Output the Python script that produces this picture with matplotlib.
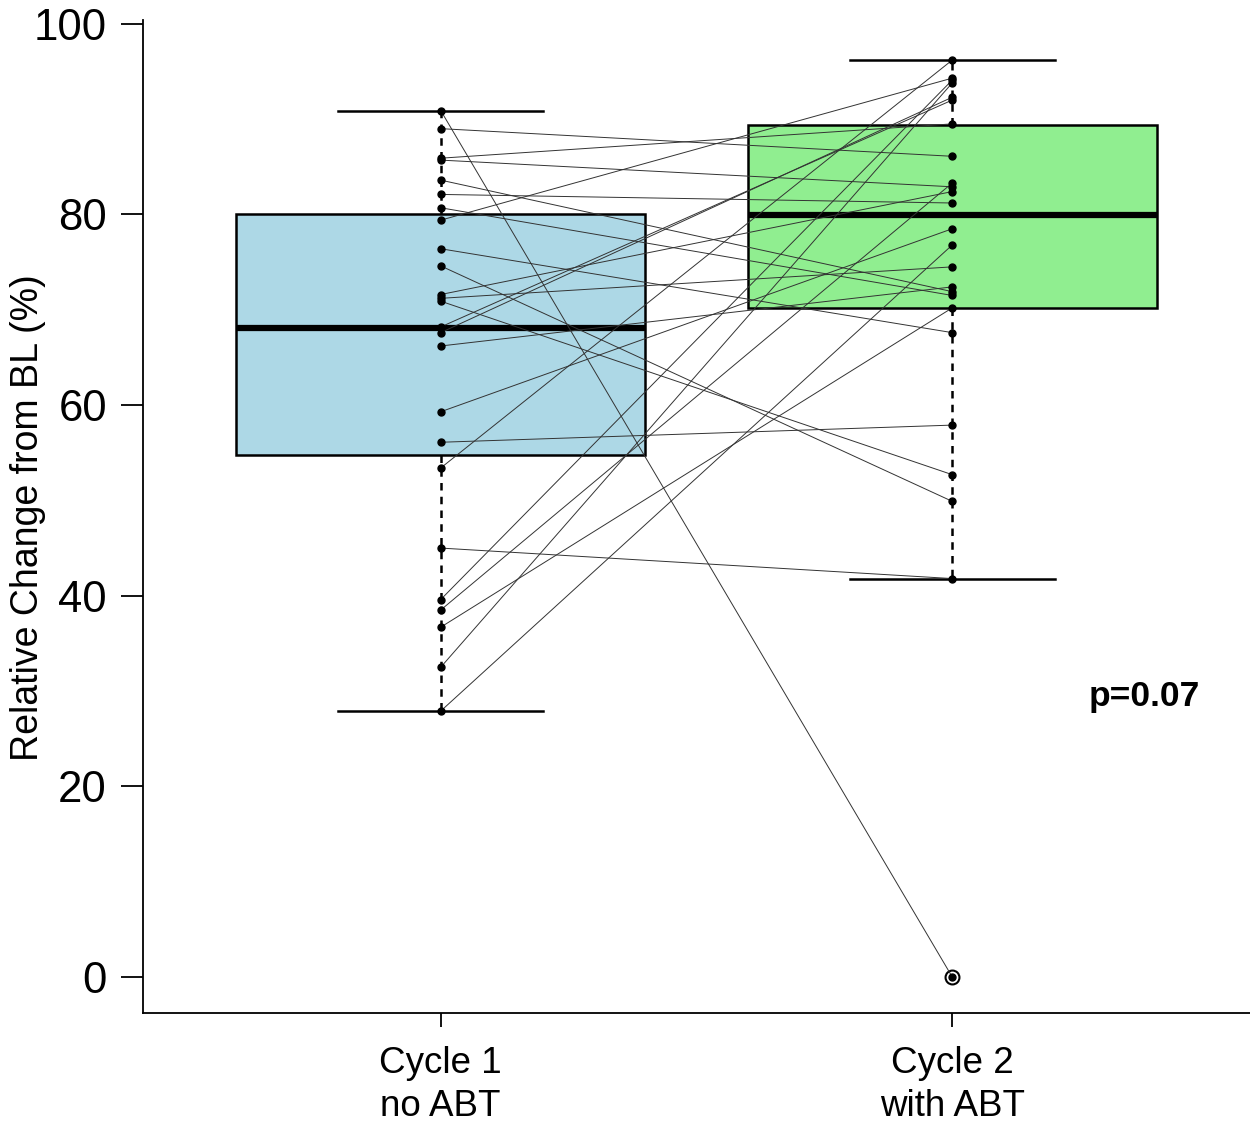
import numpy as np
import matplotlib
matplotlib.use("Agg")
from matplotlib import pyplot as plt

plt.rcParams["font.family"] = ["Liberation Sans", "DejaVu Sans"]

# paired values, same patient in the same position
cycle1 = [90.9, 89.0, 85.9, 85.7, 83.6, 82.1, 80.7, 79.4, 76.4, 74.6,
          71.6, 71.2, 70.9, 68.2, 67.6, 66.2, 59.3, 56.1, 53.4, 45.0,
          39.6, 38.5, 36.7, 32.5, 27.9]
cycle2 = [0.0, 86.1, 89.5, 82.9, 71.9, 81.2, 71.5, 94.3, 67.6, 49.9,
          82.4, 74.5, 52.7, 92.0, 92.3, 72.4, 78.5, 57.9, 96.2, 41.8,
          94.1, 83.3, 70.2, 93.8, 76.8]

# box summaries
whisker_low = [27.9, 41.8]
lower_hinge = [54.8, 70.2]
medians = [68.1, 79.9]
upper_hinge = [80.0, 89.4]
whisker_high = [90.9, 96.2]
outliers = [[], [0.0]]

box_colors = ["#ADD8E6", "#90EE90"]
tick_labels = ["Cycle 1\nno ABT", "Cycle 2\nwith ABT"]
y_ticks = [0, 20, 40, 60, 80, 100]

fig = plt.figure(figsize=(12.5, 11.29), dpi=100)
ax = fig.add_axes([0.1144, 0.1027, 0.8856, 0.8796])

stats = [
    dict(whislo=whisker_low[i], q1=lower_hinge[i], med=medians[i],
         q3=upper_hinge[i], whishi=whisker_high[i], fliers=outliers[i])
    for i in range(2)
]
bp = ax.bxp(stats, positions=[1, 2], widths=0.8, patch_artist=True,
            boxprops=dict(linewidth=1.8, edgecolor="black"),
            medianprops=dict(linewidth=4.5, color="black", solid_capstyle="butt"),
            whiskerprops=dict(linewidth=1.8, linestyle=(0, (3, 2.5)), color="black"),
            capprops=dict(linewidth=1.8, color="black"),
            capwidths=0.4,
            flierprops=dict(marker="o", markersize=10, markerfacecolor="none",
                            markeredgecolor="black", markeredgewidth=1.5))
for patch, c in zip(bp["boxes"], box_colors):
    patch.set_facecolor(c)

for a, b in zip(cycle1, cycle2):
    ax.plot([1, 2], [a, b], color="#333333", lw=0.7, zorder=3)

ax.plot(np.ones(len(cycle1)), cycle1, "o", color="black", ms=5, zorder=4)
ax.plot(np.full(len(cycle2), 2), cycle2, "o", color="black", ms=5, zorder=4)

ax.text(2.375, 29.4, "p=0.07", fontsize=25.5, fontweight="bold", ha="center", va="center")

ax.set_xlim(0.418, 2.582)
ax.set_ylim(-3.78, 100.4)
ax.set_xticks([1, 2])
ax.set_xticklabels(tick_labels, fontsize=26.5, linespacing=1.3)
ax.set_yticks(y_ticks)
ax.set_yticklabels([str(v) for v in y_ticks], fontsize=31.5)
ax.tick_params(axis="y", length=16, width=1.3, pad=10)
ax.tick_params(axis="x", length=10, width=1.3, pad=14)

fig.text(28 / 1250, 1 - 518 / 1129, "Relative Change from BL (%)", fontsize=27,
         rotation=90, ha="center", va="center")

ax.spines["top"].set_visible(False)
ax.spines["right"].set_visible(False)
ax.spines["left"].set_linewidth(1.3)
ax.spines["bottom"].set_linewidth(1.3)

fig.savefig("out.png", dpi=100)
